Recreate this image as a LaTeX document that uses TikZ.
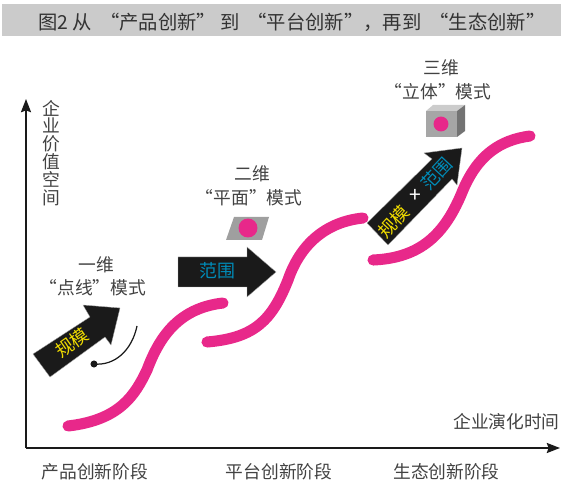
\documentclass[tikz,border=0pt]{standalone}
\usepackage{xcolor}
\usepackage{fontspec}
\usepackage{tikz}
\usetikzlibrary{arrows.meta}
\newfontfamily\cjk{Noto Sans CJK SC}
\definecolor{curvecol}{RGB}{232,40,138}
\definecolor{arrowcol}{RGB}{26,26,26}
\definecolor{txtcol}{RGB}{66,66,66}
\definecolor{yelcol}{RGB}{240,220,0}
\definecolor{bluecol}{RGB}{0,140,185}
\definecolor{barcol}{RGB}{203,203,203}
\tikzset{
  lbl/.style    ={font=\cjk\fontsize{10.1}{10.2}\selectfont, text=txtcol, align=center, inner sep=0pt},
  titlelbl/.style={font=\cjk\fontsize{11}{12}\selectfont, text=black!80, inner sep=0pt},
  onarrow/.style={font=\cjk\fontsize{10.2}{11}\selectfont, inner sep=0pt},
  axis/.style   ={-{Stealth[length=7.5pt,width=5.7pt,inset=1pt]}, line width=1.1pt, draw=arrowcol},
  growth/.style ={line width=6.3pt, line cap=round, draw=curvecol},
  bigarrow/.style={fill=arrowcol, draw=black!35, line width=0.2pt},
  spot/.style   ={circle, fill=curvecol, inner sep=0pt},
}
\begin{document}
\begin{tikzpicture}[x=0.02cm,y=-0.02cm]
    \useasboundingbox (0,0) rectangle (568,486);

    % title bar
    \fill[barcol] (2,4) rectangle (561,36);
    \node[titlelbl] (title) at (292,22) {图2 从\hspace{4.5pt}“产品创新” 到\hspace{4.5pt}“平台创新”，再到\hspace{4.5pt}“生态创新”};

    % axes
    \coordinate (origin) at (26,448);
    \coordinate (ytop) at (26,99);
    \coordinate (xend) at (560,448);
    \draw[axis] (origin) -- (ytop);
    \draw[axis] (origin) -- (xend);
    \node[lbl] (ylabel) at (51,153) {企\\业\\价\\值\\空\\间};
    \node[lbl] (xlabel) at (506.5,422) {企业演化时间};

    % stages
    \foreach \x/\name/\txt in {95/stagea/产品创新阶段, 279/stageb/平台创新阶段, 446.5/stagec/生态创新阶段}{
      \node[lbl] (\name) at (\x,472) {\txt};
    }

    % s-curves
    \draw[growth] (68,426) .. controls (120,420) and (135,395) .. (147,370)
        .. controls (160,335) and (180,308) .. (223,303);
    \draw[growth] (207,342) .. controls (255,338) and (272,320) .. (288,280)
        .. controls (300,245) and (325,222) .. (363,218);
    \draw[growth] (373,260) .. controls (420,258) and (445,235) .. (463,190)
        .. controls (478,155) and (500,140) .. (530,136);

    % arrows
    \draw[bigarrow] (33,354) -- (50,377) -- (105,337) -- (111,345) -- (120,308)
        -- (83,305) -- (90,317) -- cycle;
    \draw[bigarrow] (178,257) -- (247,257) -- (247,247) -- (276,272) -- (247,297)
        -- (247,287) -- (178,287) -- cycle;
    \draw[bigarrow] (367,223) -- (388,245) -- (452,179) -- (457,185) -- (462,148)
        -- (424,153) -- (432,159) -- cycle;

    % arrow texts
    \node[onarrow, text=yelcol, rotate=35] (scalea) at (72,343) {规模};
    \node[onarrow, text=bluecol] (rangea) at (217,271) {范围};
    \node[onarrow, text=yelcol, rotate=47] (scaleb) at (394,222) {规模};
    \node[onarrow, text=white, font=\cjk\fontsize{12}{12}\selectfont] (times) at (415,196) {+};
    \node[onarrow, text=bluecol, rotate=47] (rangeb) at (437,174) {范围};

    % one dimension
    \node[lbl] (onedim) at (96,265) {一维};
    \node[lbl] (onemode) at (93,288) {“点线”模式};
    \node[spot, fill=arrowcol, minimum size=4pt] (dot) at (94,364) {};
    \coordinate (arcend) at (137,326);
    \draw[line width=0.7pt, draw=arrowcol] (dot.center) .. controls (115,366) and (132,350) .. (arcend);

    % two dimensions
    \node[lbl] (twodim) at (252,174) {二维};
    \node[lbl] (twomode) at (249,198) {“平面”模式};
    \fill[gray!75] (234,217) -- (269,217) -- (262,240) -- (226,240) -- cycle;
    \node[spot, minimum size=10.8pt] (spotb) at (248,228) {};

    % three dimensions
    \node[lbl] (threedim) at (441,68) {三维};
    \node[lbl] (threemode) at (438,92) {“立体”模式};
    \fill[gray!70] (426,111) rectangle (457,137);
    \fill[gray!40] (426,111) -- (433,105) -- (465,105) -- (457,111) -- cycle;
    \fill[black!55] (457,111) -- (465,105) -- (465,131) -- (457,137) -- cycle;
    \node[spot, minimum size=8.5pt] (spotc) at (441,124) {};
\end{tikzpicture}
\end{document}
